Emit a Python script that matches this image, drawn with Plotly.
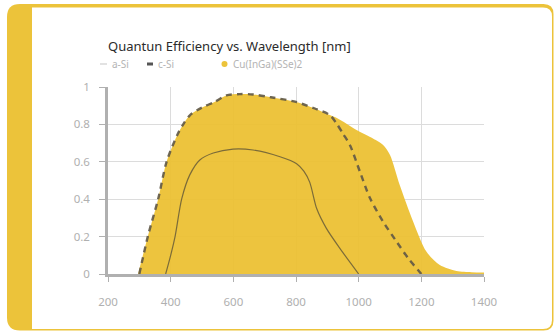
import plotly.graph_objects as go

# ---- data ----
csi_x = [300, 327, 360, 387, 423, 440, 462, 500, 540, 578, 620, 663, 720, 800, 860, 908, 929, 950, 972, 1004, 1036, 1078, 1121, 1160, 1190, 1200]
csi_y = [0, 0.2, 0.4, 0.6, 0.75, 0.8, 0.85, 0.89, 0.92, 0.955, 0.962, 0.96, 0.945, 0.92, 0.885, 0.85, 0.806, 0.75, 0.69, 0.547, 0.406, 0.28, 0.173, 0.08, 0.02, 0]

cigs_x = [296, 327, 360, 387, 423, 440, 462, 500, 540, 578, 620, 663, 720, 800, 860, 908, 929, 960, 993, 1040, 1078, 1100, 1131, 1174, 1216, 1259, 1312, 1360, 1400]
cigs_y = [0, 0.2, 0.4, 0.6, 0.75, 0.8, 0.85, 0.89, 0.92, 0.955, 0.962, 0.96, 0.945, 0.92, 0.885, 0.85, 0.835, 0.805, 0.77, 0.73, 0.69, 0.636, 0.476, 0.28, 0.12, 0.048, 0.016, 0.01, 0.008]

asi_x = [384, 400, 414, 435, 461, 493, 536, 599, 663, 749, 802, 825, 844, 866, 897, 940, 1000]
asi_y = [0, 0.1, 0.2, 0.4, 0.53, 0.61, 0.647, 0.668, 0.663, 0.627, 0.59, 0.55, 0.49, 0.35, 0.244, 0.137, 0]

x_ticks = [200, 400, 600, 800, 1000, 1200, 1400]
y_ticks = [0, 0.2, 0.4, 0.6, 0.8, 1]
y_tick_text = ["0", "0.2", "0.4", "0.6", "0.8", "1"]

title_text = "Quantun Efficiency vs. Wavelength [nm]"
names = ["a-Si", "c-Si", "Cu(InGa)(SSe)2"]

GOLD = "#ECC33A"
W, H = 554, 331
ML, MR, MT, MB = 108, 70, 87, 57
PW, PH = W - ML - MR, H - MT - MB

def px(x):
    return (x - ML) / PW

def py(y):
    return (H - MB - y) / PH

def rrect(x0, y0, x1, y1, rl, rr):
    P = lambda x, y: f"{px(x):.5f},{py(y):.5f}"
    d = f"M {P(x0 + rl, y0)} L {P(x1 - rr, y0)} Q {P(x1, y0)} {P(x1, y0 + rr)} "
    d += f"L {P(x1, y1 - rr)} Q {P(x1, y1)} {P(x1 - rr, y1)} "
    d += f"L {P(x0 + rl, y1)} Q {P(x0, y1)} {P(x0, y1 - rl)} "
    d += f"L {P(x0, y0 + rl)} Q {P(x0, y0)} {P(x0 + rl, y0)} Z"
    return d

fig = go.Figure()
fig.add_trace(go.Scatter(x=cigs_x, y=cigs_y, name=names[2], mode="lines",
                         line=dict(width=0, shape="spline", smoothing=0.8, color=GOLD),
                         fill="tozeroy", fillcolor="rgba(236,192,50,0.94)", showlegend=False))
fig.add_trace(go.Scatter(x=asi_x, y=asi_y, name=names[0], mode="lines",
                         line=dict(width=1.2, shape="spline", smoothing=0.7, color="rgba(95,85,55,0.8)"),
                         showlegend=False))
fig.add_trace(go.Scatter(x=csi_x, y=csi_y, name=names[1], mode="lines",
                         line=dict(width=2.4, shape="spline", smoothing=0.8, color="rgba(95,88,70,0.9)", dash="6px,5px"),
                         showlegend=False))

shapes = [
    dict(type="path", xref="paper", yref="paper", layer="below",
         path=rrect(7, 4, 553.5, 330.5, 13, 10), fillcolor=GOLD, line=dict(width=0)),
    dict(type="path", xref="paper", yref="paper", layer="below",
         path=rrect(32, 7.5, 552, 329, 0, 9), fillcolor="white", line=dict(width=0)),
    # legend symbols
    dict(type="line", xref="paper", yref="paper", x0=px(100), x1=px(107), y0=py(64), y1=py(64),
         line=dict(color="#cfcfcf", width=1.2)),
    dict(type="line", xref="paper", yref="paper", x0=px(147), x1=px(153), y0=py(64), y1=py(64),
         line=dict(color="#555555", width=3)),
    dict(type="circle", xref="paper", yref="paper", x0=px(221.5), x1=px(227.5), y0=py(61), y1=py(67),
         fillcolor=GOLD, line=dict(width=0)),
]

font = "Noto Sans, Open Sans, sans-serif"
anns = [
    dict(text=title_text, xref="paper", yref="paper", x=px(106), y=py(46), xanchor="left", yanchor="middle",
         showarrow=False, font=dict(size=13, color="#2b2b2b", family=font)),
    dict(text=names[0], xref="paper", yref="paper", x=px(110), y=py(64), xanchor="left", yanchor="middle",
         showarrow=False, font=dict(size=10, color="#b4b4b4", family=font)),
    dict(text=names[1], xref="paper", yref="paper", x=px(156), y=py(64), xanchor="left", yanchor="middle",
         showarrow=False, font=dict(size=10, color="#b4b4b4", family=font)),
    dict(text=names[2], xref="paper", yref="paper", x=px(231), y=py(64), xanchor="left", yanchor="middle",
         showarrow=False, font=dict(size=10, color="#b4b4b4", family=font)),
]

fig.update_layout(
    width=W, height=H, margin=dict(l=ML, r=MR, t=MT, b=MB, pad=0),
    paper_bgcolor="white", plot_bgcolor="rgba(0,0,0,0)",
    shapes=shapes, annotations=anns, showlegend=False,
    font=dict(family=font, size=11, color="#aaaaaa"),
)
fig.update_xaxes(range=[200, 1400], tickvals=x_ticks, ticktext=[str(v) for v in x_ticks],
                 showgrid=True, gridcolor="#dcdcdc", gridwidth=1, zeroline=False,
                 showline=True, linecolor="#b0b0b0", linewidth=2.5,
                 ticks="outside", ticklen=5, tickcolor="#b0b0b0", tickwidth=1,
                 ticklabelstandoff=10,
                 tickfont=dict(size=11.5, color="#b0b0b0"), fixedrange=True)
fig.update_yaxes(range=[0, 1], tickvals=y_ticks, ticktext=y_tick_text,
                 showgrid=True, gridcolor="#dcdcdc", gridwidth=1, zeroline=False,
                 showline=True, linecolor="#b0b0b0", linewidth=2.5,
                 ticks="outside", ticklen=6, tickcolor="#b0b0b0", tickwidth=1,
                 ticklabelstandoff=7,
                 tickfont=dict(size=11.5, color="#b0b0b0"), fixedrange=True)

fig.write_html("out.html", config={"displayModeBar": False},
               post_script="document.body.style.margin='0';document.body.style.overflow='hidden';")
